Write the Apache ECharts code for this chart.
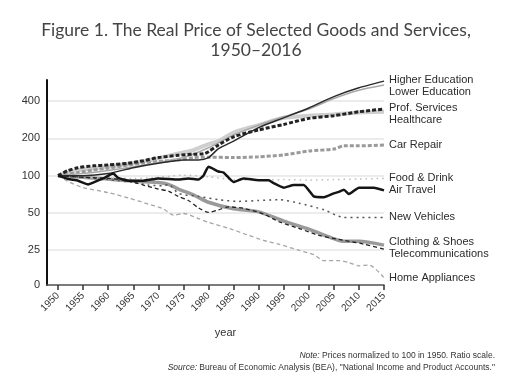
<!DOCTYPE html>
<html>
<head>
<meta charset="utf-8">
<script src="https://cdn.jsdelivr.net/npm/echarts@6/dist/echarts.min.js"></script>
<style>html,body{margin:0;padding:0;background:#fff}#c{width:512px;height:384px}</style>
</head>
<body>
<div id="c"></div>
<script>
// ---- data (year, index value, 1950 = 100) ----
const higherEducation = [[1950,100],[1955,100],[1960,104],[1965,116],[1970,126],[1975,134],[1978,134],[1980,140],[1982,165],[1985,190],[1990,244],[1995,293],[2000,352],[2005,435],[2010,512],[2015,580]];
const lowerEducation = [[1950,100],[1955,104],[1960,110],[1965,118],[1970,128],[1975,140],[1980,168],[1985,213],[1990,256],[1995,299],[2000,345],[2005,420],[2010,490],[2015,540]];
const profServices = [[1950,100],[1952,110],[1954,116],[1957,120],[1960,122],[1964,126],[1967,132],[1970,140],[1974,146],[1977,149],[1979,150],[1980,156],[1982,177],[1985,206],[1990,234],[1995,259],[2000,290],[2005,305],[2010,328],[2015,345]];
const healthcare = [[1950,100],[1954,111],[1960,118],[1967,130],[1970,138],[1974,151],[1977,161],[1980,180],[1982,190],[1985,223],[1990,256],[1995,293],[2000,305],[2005,312],[2010,324],[2015,328]];
const carRepair = [[1950,100],[1954,106],[1957,111],[1960,115],[1964,122],[1967,126],[1970,130],[1974,134],[1977,140],[1980,141],[1985,140],[1990,142],[1995,147],[2000,158],[2005,164],[2007,174],[2010,174],[2015,177]];
const foodDrink = [[1950,100],[1955,97],[1960,96],[1965,95],[1970,97],[1975,101],[1980,98],[1985,93],[1990,92],[1995,93],[2000,92],[2005,93],[2010,94],[2015,95]];
const airTravel = [[1950,100],[1952,94],[1954,91],[1956,85],[1957,88],[1959,95],[1961,104],[1962,96],[1964,91],[1967,91],[1970,95],[1974,93],[1976,95],[1978,93],[1979,100],[1980,118],[1982,108],[1983,106],[1985,89],[1987,95],[1990,92],[1992,92],[1993,87],[1995,80],[1997,84],[1999,84],[2001,68],[2003,67],[2005,72],[2006,74],[2007,77],[2008,71],[2010,80],[2013,80],[2015,76]];
const newVehicles = [[1950,100],[1955,97],[1960,93],[1965,88],[1968,84],[1971,83],[1972,85],[1974,72],[1978,68],[1982,64],[1986,62],[1990,63],[1994,64],[1998,60],[2003,53],[2007,46],[2010,46],[2015,46]];
const clothingShoes = [[1950,100],[1955,97],[1960,94],[1965,90],[1970,88],[1972,85],[1974,78],[1977,70],[1980,61],[1985,54],[1990,51],[1995,43],[2000,37],[2005,31],[2007,29.5],[2010,29.5],[2015,27.5]];
const telecommunications = [[1950,100],[1955,97],[1960,95],[1964,91],[1967,84],[1970,78],[1972,75],[1974,68],[1976,63],[1978,55],[1980,50.5],[1982,53],[1984,56],[1987,54.5],[1991,49],[1994,42.6],[1998,37.6],[2002,33],[2007,30],[2011,28],[2015,25.5]];
const homeAppliances = [[1950,100],[1952,90],[1955,80],[1960,73],[1964,66],[1968,59],[1971,54],[1973,48],[1975,49.5],[1978,45],[1980,42],[1984,37.6],[1988,33],[1991,30],[1994,28],[1998,25],[2001,23],[2003,20.6],[2006,20.6],[2008,19.9],[2010,18.7],[2012,19],[2015,15]];

const xTicks = [1950,1955,1960,1965,1970,1975,1980,1985,1990,1995,2000,2005,2010,2015];
const yTicks = [13.1,25,50,100,200,400];
const yTickLabels = ['0','25','50','100','200','400'];

function mk(name, data, color, width, type, dy, z, smooth) {
  return {
    name, type: 'line', data, showSymbol: false, symbol: 'none', z: z,
    smooth: smooth === undefined ? 0.25 : smooth,
    lineStyle: { color, width, type, cap: 'butt' },
    endLabel: { show: true, formatter: name, color: '#2b2b2b', fontSize: 11,
      fontFamily: 'Liberation Sans', offset: [0, dy], distance: 5 },
    emphasis: { disabled: true }, animation: false
  };
}

const chart = echarts.init(document.getElementById('c'), null, { renderer: 'canvas' });
chart.setOption({
  animation: false,
  backgroundColor: '#fff',
  grid: { left: 47, right: 128, top: 80, bottom: 99, containLabel: false },
  xAxis: {
    type: 'value', min: 1947.8, max: 2015,
    name: 'year', nameLocation: 'middle', nameGap: 42,
    nameTextStyle: { fontFamily: 'Liberation Sans', fontSize: 11, color: '#333', padding: [0, 0, 0, 20] },
    axisLine: { show: true, lineStyle: { color: '#555', width: 1.5 } },
    axisTick: { show: true, customValues: xTicks, length: 5, lineStyle: { color: '#333', width: 1.5 } },
    axisLabel: { customValues: xTicks, rotate: 45, fontSize: 10, color: '#333', fontFamily: 'Liberation Sans', margin: 9,
      formatter: function (v) { return String(Math.round(v)); } },
    splitLine: { show: false }
  },
  yAxis: {
    type: 'log', logBase: 2, min: 13.1, max: 592,
    axisLine: { show: true, lineStyle: { color: '#111', width: 2 } },
    axisTick: { show: false, customValues: yTicks },
    axisLabel: { customValues: yTicks, fontSize: 11, color: '#333', fontFamily: 'Liberation Sans', margin: 7,
      formatter: function (v) { const i = yTicks.findIndex(t => Math.abs(t - v) < 0.5); return i >= 0 ? yTickLabels[i] : ''; } },
    splitLine: { show: true, lineStyle: { color: '#e6e6e6', width: 1.5 } }
  },
  graphic: [
    { type: 'text', x: 256, y: 20, style: {
      text: 'Figure 1. The Real Price of Selected Goods and Services,\n1950–2016',
      align: 'center', verticalAlign: 'top', lineHeight: 20,
      font: '17.5px Lato', fill: '#444' } },
    { type: 'text', right: 17, top: 351, style: {
      text: '{i|Note:} Prices normalized to 100 in 1950. Ratio scale.',
      font: '8.5px Liberation Sans', fill: '#333',
      rich: { i: { fontStyle: 'italic', fontSize: 8.5, fontFamily: 'Liberation Sans', fill: '#333' } } } },
    { type: 'text', right: 17, top: 363, style: {
      text: '{i|Source:} Bureau of Economic Analysis (BEA), "National Income and Product Accounts."',
      font: '8.5px Liberation Sans', fill: '#333',
      rich: { i: { fontStyle: 'italic', fontSize: 8.5, fontFamily: 'Liberation Sans', fill: '#333' } } } }
  ],
  series: [
    mk('Healthcare', healthcare, '#cfcfcf', 4, 'solid', 8, 2),
    mk('Clothing & Shoes', clothingShoes, '#9a9a9a', 3.5, 'solid', -3, 2),
    mk('Car Repair', carRepair, '#9a9a9a', 3, [4, 2], 0, 3),
    mk('Lower Education', lowerEducation, '#a8a8a8', 1.5, 'solid', 7, 4),
    mk('Higher Education', higherEducation, '#2a2a2a', 1.5, 'solid', -1, 5),
    mk('Prof. Services', profServices, '#222', 3, [4, 2], -1, 5),
    mk('Food & Drink', foodDrink, '#bdbdbd', 1.5, [1.5, 4], 0, 4),
    mk('Air Travel', airTravel, '#151515', 2.5, 'solid', 0, 6, 0.15),
    mk('New Vehicles', newVehicles, '#555', 1.5, [2, 4], 0, 4),
    mk('Telecommunications', telecommunications, '#222', 1.3, [4, 3], 5, 5),
    mk('Home Appliances', homeAppliances, '#a5a5a5', 1.3, [4, 3], 0, 4)
  ]
});
</script>
</body>
</html>
